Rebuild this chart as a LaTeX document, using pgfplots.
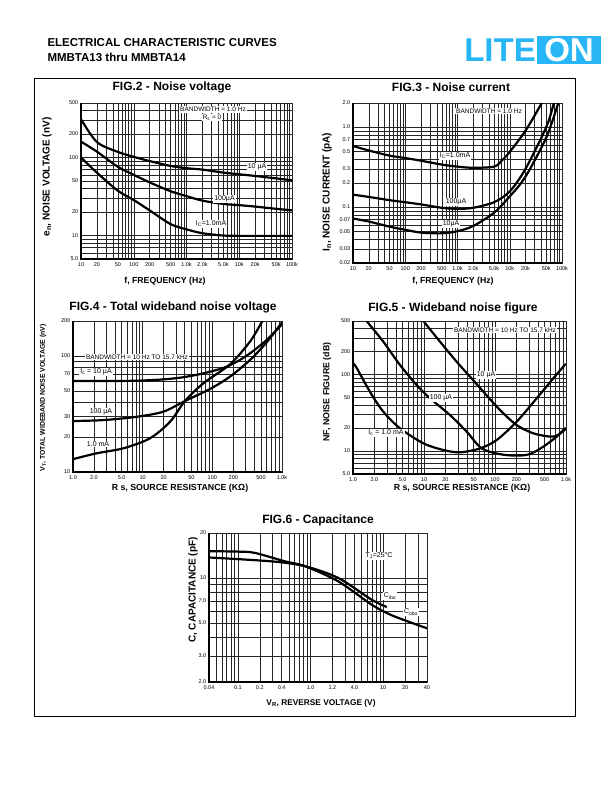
\documentclass[border=0pt]{standalone}
\usepackage{fontspec}
\setmainfont{Liberation Sans}
\usepackage{pgfplots}
\pgfplotsset{compat=1.18}

\definecolor{liteon}{RGB}{41,182,246}

% fonts used on the sheet
\newcommand\ttl{\fontsize{12}{14}\selectfont\bfseries}
\newcommand\cv{\fontsize{7}{8}\selectfont}
\newcommand\bw{\fontsize{6.5}{7.5}\selectfont}

\pgfplotsset{
  every axis/.append style={
    xmode=log, ymode=log, scale only axis, anchor=south west,
    grid=both,
    grid style={draw=black!85, line width=0.4pt},
    major tick length=0pt, minor tick length=0pt,
    axis line style={draw=black!85, line width=0.4pt},
    tick label style={font=\fontsize{5.5}{6}\selectfont, inner sep=1.5pt},
    xticklabel style={yshift=-1.5pt},
    yticklabel style={xshift=-1pt},
    after end axis/.code={\draw[line width=1.4pt] (rel axis cs:0,1) -- (rel axis cs:0,0) -- (rel axis cs:1,0);},
  },
  trace/.style={black, line width=2.2pt, smooth, mark=none},
  freqx/.style={
    xmin=10, xmax=100000,
    xtick={10,20,50,100,200,500,1000,2000,5000,10000,20000,50000,100000},
    xticklabels={10,20,50,100,200,500,1.0k,2.0k,5.0k,10k,20k,50k,100k},
    minor xtick={30,40,60,70,80,90,300,400,600,700,800,900,3000,4000,6000,7000,8000,9000,30000,40000,60000,70000,80000,90000},
  },
  resx/.style={
    xmin=1, xmax=1000,
    xtick={1,2,5,10,20,50,100,200,500,1000},
    xticklabels={1.0,2.0,5.0,10,20,50,100,200,500,1.0k},
    minor xtick={3,4,6,7,8,9,30,40,60,70,80,90,300,400,600,700,800,900},
  },
}

\begin{document}
\begin{tikzpicture}
\useasboundingbox (0pt,0pt) rectangle (612pt,-792pt);

% header
\node[anchor=west, font=\fontsize{11.5}{13}\selectfont\bfseries] at (44pt,-43pt) {ELECTRICAL CHARACTERISTIC CURVES};
\node[anchor=west, font=\fontsize{11.5}{13}\selectfont\bfseries] at (44pt,-57pt) {MMBTA13 thru MMBTA14};
\fill[liteon] (537pt,-36pt) rectangle (601pt,-64pt);
\node[anchor=base east, inner sep=0pt, text=liteon, font=\fontsize{33}{33}\selectfont\bfseries] at (536pt,-61.5pt) {LITE};
\node[anchor=base, inner sep=0pt, text=white, font=\fontsize{33}{33}\selectfont\bfseries] at (569pt,-61.5pt) {ON};
\draw[line width=0.8pt] (34pt,-78pt) rectangle (575pt,-716pt);

% FIG.2 noise voltage
\begin{axis}[freqx, at={(81pt,-259pt)}, width=211pt, height=156pt,
  ymin=5, ymax=500,
  ytick={5,10,20,50,100,200,500}, yticklabels={5.0,10,20,50,100,200,500},
  minor ytick={6,7,8,9,30,40,60,70,80,90,300,400}]
\addplot[trace] coordinates {(10,310) (20,158) (50,118) (100,102) (200,90) (500,78) (1000,73) (2000,70) (5000,64) (10000,61) (20000,58) (50000,54) (100000,51)};
\addplot[trace] coordinates {(10,160) (20,119) (50,76) (100,60) (200,48) (500,37) (1000,32) (2000,28) (5000,25.4) (10000,24.5) (20000,23.5) (50000,22) (100000,21)};
\addplot[trace] coordinates {(10,100) (20,64) (50,37.5) (100,28.5) (200,21) (500,14) (1000,12) (2000,10.7) (5000,10) (10000,9.9) (100000,9.9)};
\end{axis}

% FIG.3 noise current
\begin{axis}[freqx, at={(353pt,-263pt)}, width=209pt, height=160pt,
  ymin=0.02, ymax=2,
  ytick={0.02,0.03,0.05,0.07,0.1,0.2,0.3,0.5,0.7,1,2},
  yticklabels={0.02,0.03,0.05,0.07,0.1,0.2,0.3,0.5,0.7,1.0,2.0},
  minor ytick={0.04,0.06,0.08,0.09,0.4,0.6,0.8,0.9}]
\addplot[trace] coordinates {(10,0.58) (20,0.51) (50,0.44) (100,0.41) (200,0.38) (500,0.34) (1000,0.32) (2000,0.31) (5000,0.32) (7000,0.38) (10000,0.49) (20000,0.9) (41000,2.0) (45000,2.3)};
\addplot[trace] coordinates {(10,0.143) (20,0.134) (50,0.122) (100,0.115) (200,0.108) (500,0.098) (1000,0.095) (2000,0.098) (5000,0.115) (10000,0.157) (20000,0.30) (50000,1.0) (70000,2.0) (75000,2.3)};
\addplot[trace] coordinates {(10,0.072) (20,0.066) (50,0.057) (100,0.052) (200,0.048) (500,0.047) (1000,0.05) (2000,0.058) (5000,0.085) (10000,0.136) (20000,0.24) (50000,0.74) (85000,2.0) (90000,2.2)};
\end{axis}

% FIG.4 total wideband noise voltage
\begin{axis}[resx, at={(73pt,-472pt)}, width=209pt, height=151pt,
  ymin=10, ymax=200,
  ytick={10,20,30,50,70,100,200}, yticklabels={10,20,30,50,70,100,200},
  minor ytick={40,60,80,90}]
\addplot[trace] coordinates {(1,60.8) (4.73,60.8) (14.2,62.0) (34.3,64.9) (74.3,70.8) (160.6,80.8) (311,100.5) (602,137.2) (1000,187.5)};
\addplot[trace] coordinates {(1,27.5) (2.73,28.0) (8.2,29.9) (19.8,33.1) (40.5,40.9) (92.5,51.9) (179,66.3) (347,92.2) (602,131) (1000,194.8)};
\addplot[trace] coordinates {(1,12.9) (2.19,14.5) (5.28,16.0) (12.7,19.5) (24.7,27.1) (40.5,40.9) (74.3,58.1) (179,84.6) (347,132.8) (511,194.8) (560,215)};
\end{axis}

% FIG.5 wideband noise figure
\begin{axis}[resx, at={(353pt,-474pt)}, width=213pt, height=153pt,
  ymin=5, ymax=500,
  ytick={5,10,20,50,100,200,500}, yticklabels={5.0,10,20,50,100,200,500},
  minor ytick={6,7,8,9,30,40,60,70,80,90,300,400}]
\addplot[trace] coordinates {(1,138) (1.10,126.5) (1.73,59.6) (2.67,32.6) (4.59,19.8) (9.79,12.6) (18.7,10.3) (32.1,9.6) (61.5,10.8) (105.6,13.9) (202,24.15) (386,48.8) (663,89.0) (917,126.5) (1000,138)};
\addplot[trace] coordinates {(1.4,600) (1.56,500) (2.67,268.5) (4.59,133) (7.88,72.8) (12.15,48.8) (23.2,29.5) (39.9,17.9) (64.9,10.8) (117.6,9.09) (202,8.69) (311,9.12) (480,11.4) (739,15.4) (917,18.8) (1000,20)};
\addplot[trace] coordinates {(8.5,600) (9.79,500) (16.8,268.5) (28.8,147) (44.5,93.6) (68.5,59.6) (117.6,34.3) (202,21.8) (347,17.0) (595,15.4) (739,15.87) (917,18.24) (1000,19.5)};
\end{axis}

% FIG.6 capacitance
\begin{axis}[at={(209pt,-682pt)}, width=218pt, height=149pt,
  xmin=0.04, xmax=40, ymin=2, ymax=20,
  xtick={0.04,0.1,0.2,0.4,1,2,4,10,20,40},
  xticklabels={0.04,0.1,0.2,0.4,1.0,1.2,4.0,10,20,40},
  minor xtick={0.05,0.06,0.07,0.08,0.09,0.3,0.5,0.6,0.7,0.8,0.9,3,5,6,7,8,9,30},
  ytick={2,3,5,7,10,20}, yticklabels={2.0,3.0,5.0,7.0,10,20},
  minor ytick={4,6,8,9}]
\addplot[trace] coordinates {(0.04,15.1) (0.1,15.0) (0.172,14.7) (0.445,12.9) (0.838,11.97) (2.41,9.47) (6.93,6.61) (13.1,5.61) (35.6,4.68) (40,4.6)};
\addplot[trace] coordinates {(0.04,13.7) (0.292,12.9) (0.838,11.97) (2.41,9.98) (6.93,7.13) (11.2,6.37)};
\end{axis}

% titles
\node[font=\ttl] at (172pt,-87pt) {FIG.2 - Noise voltage};
\node[font=\ttl] at (451pt,-87pt) {FIG.3 - Noise current};
\node[font=\ttl] at (173pt,-307pt) {FIG.4 - Total wideband noise voltage};
\node[font=\ttl] at (453pt,-308pt) {FIG.5 - Wideband noise figure};
\node[font=\ttl] at (318pt,-520pt) {FIG.6 - Capacitance};

% axis labels
\node[font=\fontsize{8.7}{10}\selectfont\bfseries] at (165pt,-281pt) {f, FREQUENCY (Hz)};
\node[font=\fontsize{8.7}{10}\selectfont\bfseries] at (453pt,-281pt) {f, FREQUENCY (Hz)};
\node[font=\fontsize{8.8}{10}\selectfont\bfseries] at (180pt,-488pt) {R s, SOURCE RESISTANCE (KΩ)};
\node[font=\fontsize{8.8}{10}\selectfont\bfseries] at (462pt,-488pt) {R s, SOURCE RESISTANCE (KΩ)};
\node[font=\fontsize{8.3}{10}\selectfont\bfseries] at (321pt,-703pt) {V\textsubscript{R}, REVERSE VOLTAGE (V)};
\node[rotate=90, font=\fontsize{10}{11}\selectfont\bfseries] at (47pt,-177pt) {e\textsubscript{n}, NOISE VOLTAGE (nV)};
\node[rotate=90, font=\fontsize{10}{11}\selectfont\bfseries] at (327pt,-192pt) {I\textsubscript{n}, NOISE CURRENT (pA)};
\node[rotate=90, font=\fontsize{6.9}{8}\selectfont\bfseries] at (43pt,-398pt) {V\textsubscript{T}, TOTAL WIDEBAND NOISE VOLTAGE (nV)};
\node[rotate=90, font=\fontsize{8.8}{10}\selectfont\bfseries] at (327pt,-392pt) {NF, NOISE FIGURE (dB)};
\node[rotate=90, font=\fontsize{10}{11}\selectfont\bfseries] at (193pt,-590pt) {C, CAPACITANCE (pF)};

% curve annotations
\tikzset{tag/.style={fill=white, inner sep=1pt}}
\node[tag, font=\bw] at (213pt,-109.5pt) {BANDWIDTH = 1.0 Hz};
\node[tag, font=\bw] at (212pt,-117.5pt) {R\textsubscript{s} = 0};
\node[tag, font=\cv] at (257pt,-167pt) {10 µA};
\node[tag, font=\cv] at (224.5pt,-199pt) {100µA};
\node[tag, font=\cv] at (211pt,-224pt) {I\textsubscript{C}=1.0mA};

\node[tag, font=\bw] at (489pt,-111pt) {BANDWIDTH = 1.0 Hz};
\node[tag, font=\cv] at (455pt,-156pt) {I\textsubscript{C}=1.0mA};
\node[tag, font=\cv] at (456pt,-202pt) {100µA};
\node[tag, font=\cv] at (451pt,-224pt) {10µA};

\node[tag, font=\bw] at (137pt,-357pt) {BANDWIDTH = 10 Hz TO 15.7 kHz};
\node[tag, font=\cv] at (96pt,-372pt) {I\textsubscript{c} = 10 µA};
\node[tag, font=\cv] at (101pt,-412pt) {100 µA};
\node[tag, font=\cv] at (98pt,-444pt) {1.0 mA};

\node[tag, font=\bw] at (505pt,-330pt) {BANDWIDTH = 10 Hz TO 15.7 kHz};
\node[tag, font=\cv] at (486pt,-375pt) {10 µA};
\node[tag, font=\cv] at (441pt,-398pt) {100 µA};
\node[tag, font=\cv] at (386pt,-433pt) {I\textsubscript{c} = 1.0 mA};

\node[tag, font=\cv] at (379pt,-556pt) {T\textsubscript{J}=25°C};
\node[tag, font=\cv] at (390pt,-596pt) {C\textsubscript{ibo}};
\node[tag, font=\cv] at (411pt,-612pt) {C\textsubscript{obo}};
\end{tikzpicture}
\end{document}
